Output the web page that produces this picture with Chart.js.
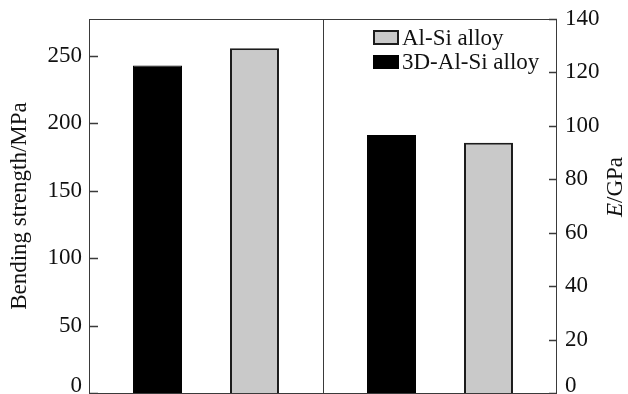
<!DOCTYPE html>
<html>
<head>
<meta charset="utf-8">
<script src="https://cdn.jsdelivr.net/npm/chart.js@4.4.1/dist/chart.umd.min.js"></script>
<style>
	html, body { margin: 0; padding: 0; background: #fff; overflow: hidden; }
	#wrap { position: relative; width: 628px; height: 394px; }
</style>
</head>
<body>
<div id="wrap"><canvas id="c"></canvas></div>
<script>
// data
var groups = ["Bending strength", "Elastic modulus"];
var alloys = ["3D-Al-Si alloy", "Al-Si alloy"];
var strengthMPa = [243, 255.7]; // 3D-Al-Si, Al-Si
var modulusGPa = [96.6, 93.7]; // 3D-Al-Si, Al-Si
var strengthTicks = [0, 50, 100, 150, 200, 250];
var modulusTicks = [0, 20, 40, 60, 80, 100, 120, 140];

var FONT = "'Liberation Serif', 'Times New Roman', serif";
var fills = ["#000000", "#c9c9c9"];
var borders = ["#000000", "#1c1c1c"];

// one dataset per bar, null in the other group so skipNull pairs them up
var datasets = [];
alloys.forEach(function (name, i) {
	datasets.push({
		label: name,
		data: [strengthMPa[i], null],
		yAxisID: "y",
		stack: "s" + i,
		backgroundColor: fills[i],
		borderColor: borders[i],
		borderWidth: i ? 2 : 1,
		skipNull: true,
	});
});
alloys.forEach(function (name, i) {
	datasets.push({
		label: name,
		data: [null, modulusGPa[i]],
		yAxisID: "y1",
		stack: "m" + i,
		backgroundColor: fills[i],
		borderColor: borders[i],
		borderWidth: i ? 2 : 1,
		skipNull: true,
	});
});

function fixWidth(w) {
	return function (scale) {
		scale.width = w;
		scale.paddingTop = 0;
		scale.paddingBottom = 0;
	};
}

// the "0" labels sit a little above the bottom edge in the original
function tickLabel(v) {
	return v === 0 ? ["0", ""] : String(v);
}
function tickFont(c) {
	return { family: FONT, size: 23, lineHeight: c.tick && c.tick.value === 0 ? 0.6 : 1.2 };
}

var decor = {
	id: "decor",
	afterDatasetsDraw(chart) {
		const ctx = chart.ctx;
		const a = chart.chartArea;
		const sx = chart.scales.x;
		ctx.save();
		ctx.strokeStyle = "#3a3a3a";
		ctx.lineWidth = 1;
		ctx.strokeRect(a.left + 0.5, a.top + 0.5, a.right - a.left - 1, a.bottom - a.top);
		// divider between the two groups
		const mid = Math.round((sx.getPixelForValue(0) + sx.getPixelForValue(1)) / 2) + 0.5;
		ctx.beginPath();
		ctx.moveTo(mid, a.top);
		ctx.lineTo(mid, a.bottom);
		ctx.stroke();
		// inward tick marks
		ctx.lineWidth = 1.3;
		ctx.beginPath();
		chart.scales.y.ticks.forEach((t) => {
			const y = Math.round(chart.scales.y.getPixelForValue(t.value)) + 0.5;
			ctx.moveTo(a.left, y);
			ctx.lineTo(a.left + 9, y);
		});
		chart.scales.y1.ticks.forEach((t) => {
			const y = Math.round(chart.scales.y1.getPixelForValue(t.value)) + 0.5;
			ctx.moveTo(a.right, y);
			ctx.lineTo(a.right - 8, y);
		});
		ctx.stroke();

		// legend, inside the plot at top right
		ctx.font = "23px " + FONT;
		ctx.textBaseline = "alphabetic";
		const bx = 374, bw = 24, bh = 13;
		ctx.fillStyle = fills[1];
		ctx.fillRect(bx, 31, bw, bh);
		ctx.strokeStyle = "#1c1c1c";
		ctx.lineWidth = 2;
		ctx.strokeRect(bx, 31, bw, bh);
		ctx.fillStyle = "#000";
		ctx.fillRect(bx - 1, 55, bw + 2, bh + 1);
		ctx.fillStyle = "#111";
		ctx.fillText(alloys[1], 402, 45);
		ctx.fillText(alloys[0], 402, 69);

		// right axis title, read bottom to top, italic E
		ctx.translate(616, 187);
		ctx.rotate(-Math.PI / 2);
		ctx.font = "italic 23px " + FONT;
		const wE = ctx.measureText("E").width;
		ctx.font = "23px " + FONT;
		const wRest = ctx.measureText("/GPa").width;
		const x0 = -(wE + wRest) / 2;
		ctx.textBaseline = "middle";
		ctx.font = "italic 23px " + FONT;
		ctx.fillText("E", x0, 0);
		ctx.font = "23px " + FONT;
		ctx.fillText("/GPa", x0 + wE, 0);
		ctx.restore();
	},
};

new Chart(document.getElementById("c"), {
	type: "bar",
	data: { labels: groups, datasets: datasets },
	options: {
		responsive: true,
		maintainAspectRatio: false,
		animation: false,
		layout: { padding: { top: 19, bottom: 1, left: 0, right: 0 } },
		categoryPercentage: 0.829,
		barPercentage: 0.505,
		plugins: { legend: { display: false }, tooltip: { enabled: false } },
		scales: {
			x: { display: false },
			y: {
				position: "left",
				min: 0,
				max: 277.4,
				afterFit: fixWidth(89),
				afterBuildTicks: (s) => { s.ticks = strengthTicks.map((v) => ({ value: v })); },
				grid: { display: false, drawTicks: false },
				border: { display: false },
				ticks: { padding: 7, color: "#111", font: tickFont, callback: tickLabel },
				title: {
					display: true,
					text: "Bending strength/MPa",
					color: "#111",
					padding: { top: 6, bottom: 0 },
					font: { family: FONT, size: 23 },
				},
			},
			y1: {
				position: "right",
				min: 0,
				max: 140,
				afterFit: fixWidth(71),
				afterBuildTicks: (s) => { s.ticks = modulusTicks.map((v) => ({ value: v })); },
				grid: { display: false, drawTicks: false },
				border: { display: false },
				ticks: { padding: 8, color: "#111", font: tickFont, callback: tickLabel },
			},
		},
	},
	plugins: [decor],
});
</script>
</body>
</html>
